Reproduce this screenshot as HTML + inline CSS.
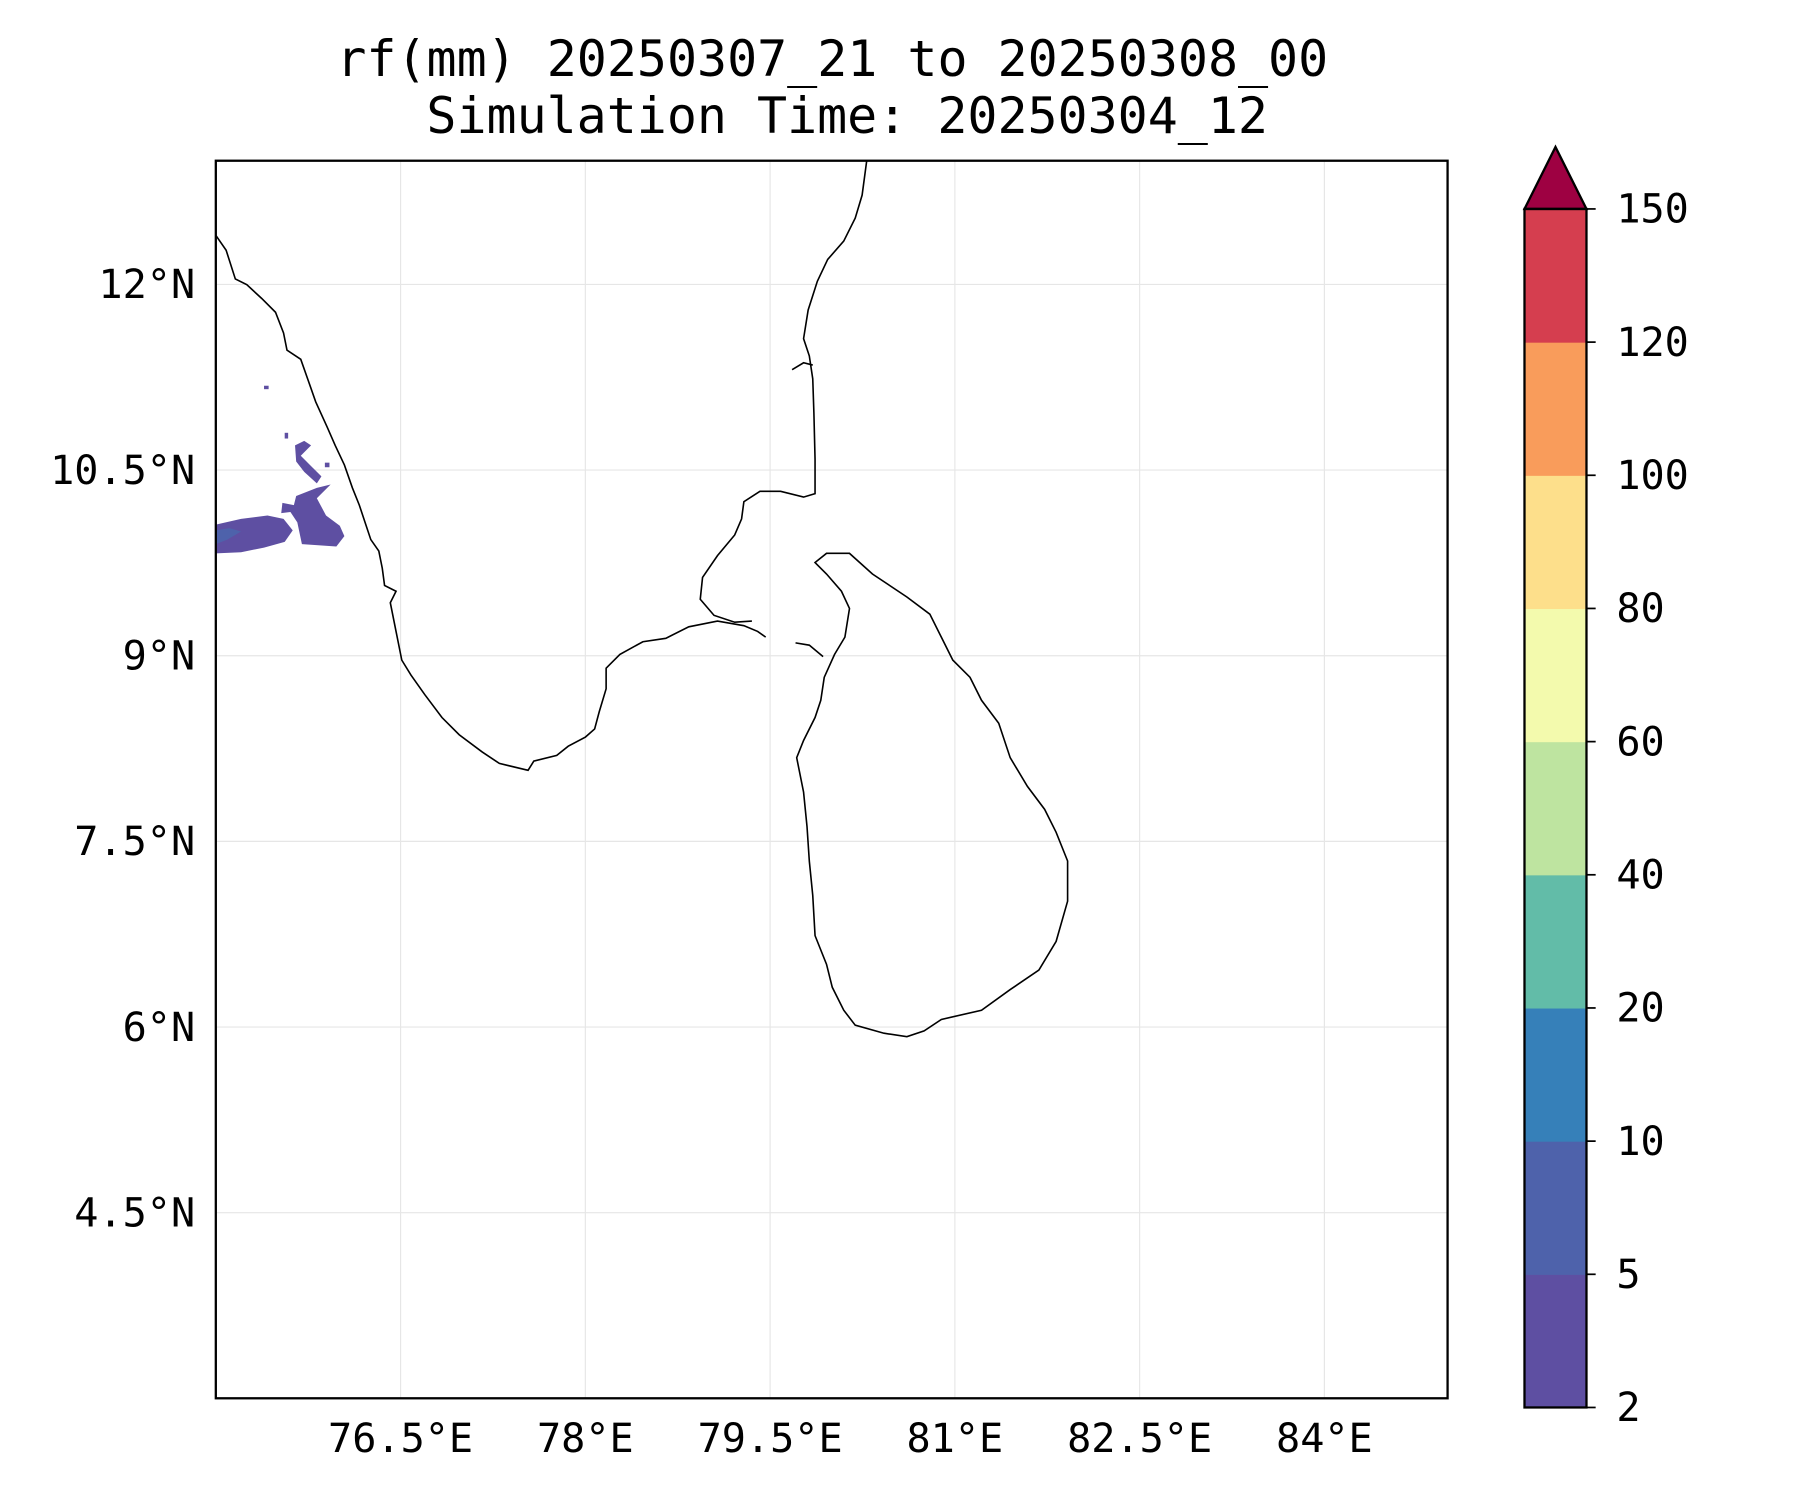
<!DOCTYPE html>
<html><head><meta charset="utf-8"><style>
html,body{margin:0;padding:0;background:#fff;width:1800px;height:1500px;overflow:hidden}
text{font-family:"DejaVu Sans Mono","Liberation Mono",monospace;fill:#000}
</style></head><body>
<svg id="chart" width="1800" height="1500" viewBox="0 0 1568 1306.6" preserveAspectRatio="none" xmlns="http://www.w3.org/2000/svg">
<g>
<text x="725" y="66" font-size="43.5" text-anchor="middle">rf(mm) 20250307_21 to 20250308_00</text>
<text x="738" y="116" font-size="43.5" text-anchor="middle">Simulation Time: 20250304_12</text>
</g>
<g id="grid"></g>
<g id="rain">
<path fill="#5e4fa2" d="M188,457 L210,452 L233,449 L247,452 L255,462 L248,472 L230,477 L210,481 L188,482Z"/>
<path fill="#4e62ab" d="M188,462 L200,460 L210,463 L198,470 L188,474Z"/>
<path fill="#5e4fa2" d="M258,432 L276,425 L288,422 L276,434 L284,449 L296,458 L300,467 L293,476 L263,474 L259,455 L253,446 L245,447 L246,438 L256,440Z"/>
<path fill="#5e4fa2" d="M257,388 L265,384 L271,388 L262,397 L272,407 L280,415 L276,421 L265,411 L258,402Z"/>
<path fill="#5e4fa2" d="M230,336 L234,336 L234,339 L230,339Z"/>
<path fill="#5e4fa2" d="M248,377 L251,377 L251,382 L248,382Z"/>
<path fill="#5e4fa2" d="M283,403 L287,403 L287,407 L283,407Z"/>
</g>
<g fill="none" stroke="#000" stroke-width="1.4">
<polyline points="188,205 197,218 205,243 215,248 228,260 240,272 247,290 250,305 262,313 268,330 275,350 285,372 292,388 300,405 307,425 313,440 318,455 323,470 330,480 333,495 335,510 345,515 340,525 345,550 350,575 358,588 370,605 385,625 400,640 420,655 435,665 460,671 465,663 485,658 495,650 510,642 518,635 522,620 528,600 528,582 540,570 560,559 580,556 600,546 625,541 648,545 660,550 667,555"/>
<polyline points="655,541 640,542 622,536 610,522 612,503 625,484 640,466 646,452 648,437 662,428 680,428 700,433 710,430 710,400 709,360 708,330 705,310 700,295 704,270 712,245 721,226 735,210 745,190 751,170 755,140"/>
<path d="M710,490 L720,482 L740,482 L760,500 L790,520 L810,535 L820,555 L830,575 L845,590 L855,610 L870,630 L880,660 L895,685 L910,705 L920,725 L930,750 L930,785 L920,820 L905,845 L880,862 L855,880 L820,888 L805,898 L790,903 L770,900 L745,893 L735,880 L725,860 L720,840 L710,815 L708,780 L705,750 L703,720 L700,690 L694,660 L700,645 L710,625 L715,610 L718,590 L727,570 L736,555 L740,530 L733,515 L720,500Z"/>
<polyline points="693,560 705,562 717,572"/>
<polyline points="690,322 700,316 708,318"/>
</g>
<rect x="188" y="140" width="1073" height="1078" fill="none" stroke="#000" stroke-width="2"/>
<g id="xticks"></g>
<g id="yticks"></g>
<g id="cbar"></g>
</svg>
<script>
const lonTicks=[76.5,78,79.5,81,82.5,84];
const lonLabels=["76.5°E","78°E","79.5°E","81°E","82.5°E","84°E"];
const latTicks=[12,10.5,9,7.5,6,4.5];
const latLabels=["12°N","10.5°N","9°N","7.5°N","6°N","4.5°N"];
const levels=[2,5,10,20,40,60,80,100,120,150];
const levelColors=["#5e4fa2","#4e62ab","#3680b9","#62bca8","#bee4a0","#f3faad","#fddf8b","#f99c5b","#d53e4f"];
const extendColor="#9e0142";
const NS="http://www.w3.org/2000/svg";
const X0=188,X1=1261,Y0=140,Y1=1218,LON0=75,LON1=85,LAT0=3,LAT1=13;
function xs(lon){return X0+(lon-LON0)/(LON1-LON0)*(X1-X0);}
function ys(lat){return Y1-(lat-LAT0)/(LAT1-LAT0)*(Y1-Y0);}
function mk(t,a,p){const e=document.createElementNS(NS,t);for(const k in a)e.setAttribute(k,a[k]);p.appendChild(e);return e;}
const grid=document.getElementById('grid'),xt=document.getElementById('xticks'),yt=document.getElementById('yticks'),cb=document.getElementById('cbar');
lonTicks.forEach((v,i)=>{
 const l=mk('line',{x1:xs(v),x2:xs(v),y1:Y0,y2:Y1,stroke:'#e6e6e6','stroke-width':1},grid);
 
 
 const t=mk('text',{x:xs(v),y:1265,'font-size':35,'text-anchor':'middle'},xt);
 t.textContent=lonLabels[i];
 
 
});
latTicks.forEach((v,i)=>{
 const l=mk('line',{x1:X0,x2:X1,y1:ys(v),y2:ys(v),stroke:'#e6e6e6','stroke-width':1},grid);
 
 
 const t=mk('text',{x:170,y:ys(v)+12,'font-size':35,'text-anchor':'end'},yt);
 t.textContent=latLabels[i];
 
 
});
const CX=1328,CW=54,CT=182,CB=1226,n=levelColors.length,seg=(CB-CT)/n;
levelColors.forEach((c,i)=>{
 const r=mk('rect',{x:CX,y:CB-(i+1)*seg,width:CW,height:seg+0.5,fill:c},cb);
 
 
});
const tri=mk('path',{d:`M${CX},${CT} L${CX+CW/2},128 L${CX+CW},${CT}Z`,fill:extendColor,stroke:'#000','stroke-width':2},cb);


const fr=mk('rect',{x:CX,y:CT,width:CW,height:CB-CT,fill:'none',stroke:'#000','stroke-width':2},cb);


levels.forEach((v,i)=>{
 const y=CB-i*seg;
 mk('line',{x1:CX+CW,x2:CX+CW+8,y1:y,y2:y,stroke:'#000','stroke-width':1.5},cb);
 const t=mk('text',{x:1408,y:y+12,'font-size':35},cb);
 t.textContent=v;
 
 
});
</script>
</body></html>
